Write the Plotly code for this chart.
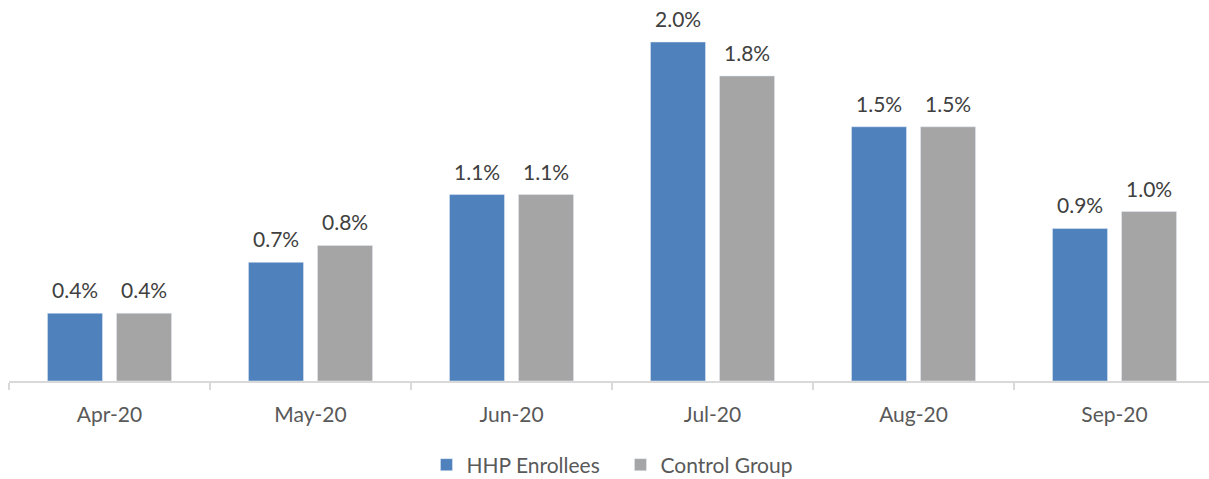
import plotly.graph_objects as go

months = ["Apr-20", "May-20", "Jun-20", "Jul-20", "Aug-20", "Sep-20"]
hhp_enrollees = [0.4, 0.7, 1.1, 2.0, 1.5, 0.9]
control_group = [0.4, 0.8, 1.1, 1.8, 1.5, 1.0]

BLUE = "#4f81bd"
GRAY = "#a5a5a5"
FONT = "Lato"
FS = 21

fig = go.Figure()
fig.add_trace(go.Bar(x=months, y=hhp_enrollees, name="HHP Enrollees", marker_color=BLUE))
fig.add_trace(go.Bar(x=months, y=control_group, name="Control Group", marker_color=GRAY))

annotations = []
for m, v in zip(months, hhp_enrollees):
    annotations.append(dict(x=m, y=v, text=f"{v:.1f}%", xref="x", yref="y", showarrow=False,
                            yanchor="bottom", xshift=-34.5, yshift=9,
                            font=dict(family=FONT, size=FS, color="#404040")))
for m, v in zip(months, control_group):
    annotations.append(dict(x=m, y=v, text=f"{v:.1f}%", xref="x", yref="y", showarrow=False,
                            yanchor="bottom", xshift=34.5, yshift=9,
                            font=dict(family=FONT, size=FS, color="#404040")))

fig.update_layout(
    width=1209, height=479,
    margin=dict(l=9, r=0, t=10, b=98, autoexpand=False),
    plot_bgcolor="white", paper_bgcolor="white",
    barmode="group", bargap=0.313, bargroupgap=0.203,
    font=dict(family=FONT, size=FS, color="#595959"),
    showlegend=True,
    legend=dict(orientation="h", x=0.5132, xanchor="center", xref="container",
                y=1 - 465 / 479, yanchor="middle", yref="container",
                entrywidth=149, entrywidthmode="pixels",
                font=dict(family=FONT, size=FS, color="#595959"),
                traceorder="normal"),
    annotations=annotations,
    xaxis=dict(type="category", range=[-0.5, 5.47], showline=True, linecolor="#d9d9d9", linewidth=1.5,
               ticks="outside", tickson="boundaries", ticklen=7, tickcolor="#d9d9d9", tickwidth=1.5,
               ticklabelstandoff=14, automargin=False,
               tickfont=dict(family=FONT, size=FS, color="#595959"), showgrid=False),
    yaxis=dict(range=[0, 2.189], visible=False, showgrid=False, zeroline=False, automargin=False),
)

fig.write_html("out.html", config={"displayModeBar": False},
               post_script="document.body.style.margin='0';")
